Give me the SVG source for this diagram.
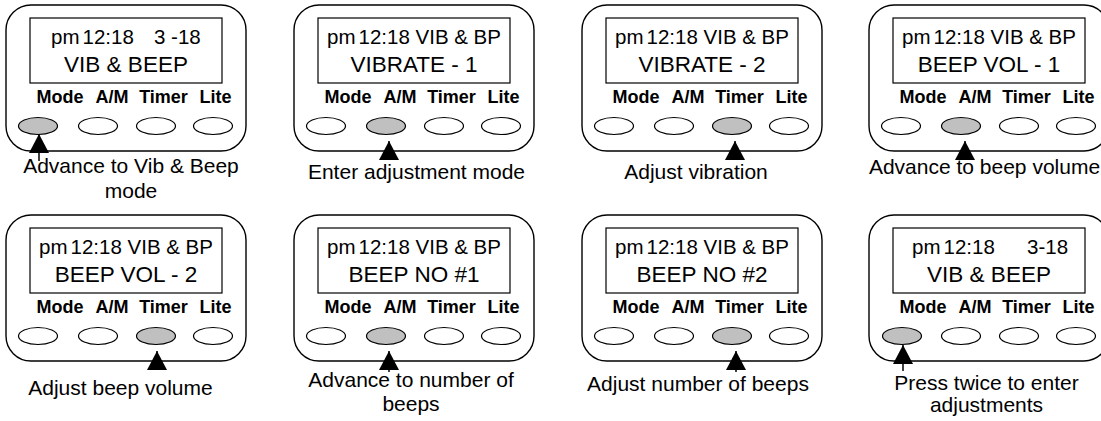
<svg xmlns="http://www.w3.org/2000/svg" width="1101" height="421" viewBox="0 0 1101 421">
<style>
text{font-family:"Liberation Sans",Arial,sans-serif;fill:#000}
.body{fill:#fff;stroke:#000;stroke-width:1.4}
.scr{fill:#fff;stroke:#000;stroke-width:1.2}
.l1{font-size:20.5px}
.l2{font-size:22.5px;text-anchor:middle}
.lbl{font-size:18px;font-weight:bold;text-anchor:middle}
.btn{fill:#fff;stroke:#000;stroke-width:1.2}
.on{fill:#c0c0c0}
.cap{font-size:21px;text-anchor:middle}
.arr{stroke:#000;stroke-width:1.5;fill:none}
</style>
<defs>
<marker id="ah" viewBox="0 0 19 20" refX="19" refY="10" markerWidth="19" markerHeight="20" markerUnits="userSpaceOnUse" orient="auto">
<path d="M0,0 L19,10 L0,20 z" fill="#000"/>
</marker>
<g id="keys">
<text class="lbl" x="54" y="98">Mode</text>
<text class="lbl" x="106" y="98">A/M</text>
<text class="lbl" x="157.5" y="98">Timer</text>
<text class="lbl" x="209.5" y="98">Lite</text>
</g>
</defs>

<g id="panel1" transform="translate(6,5)">
<rect class="body" x="0" y="0" width="240" height="146" rx="25"/>
<rect class="scr" x="24" y="13" width="192" height="65"/>
<text class="l1" x="45" y="39">pm<tspan dx="3">12:18</tspan></text>
<text class="l1" x="148" y="39">3 -18</text>
<text class="l2" x="120" y="67">VIB &amp; BEEP</text>
<use href="#keys"/>
<ellipse class="btn on" cx="32" cy="121" rx="19.5" ry="8.5"/>
<ellipse class="btn" cx="92" cy="121" rx="19.5" ry="8.5"/>
<ellipse class="btn" cx="150" cy="121" rx="19.5" ry="8.5"/>
<ellipse class="btn" cx="207" cy="121" rx="19.5" ry="8.5"/>
<text class="cap" x="125" y="168">Advance to Vib &amp; Beep</text>
<text class="cap" x="125" y="193">mode</text>
</g>

<g id="panel2" transform="translate(294,5)">
<rect class="body" x="0" y="0" width="240" height="146" rx="25"/>
<rect class="scr" x="24" y="13" width="192" height="65"/>
<text class="l1" x="120" y="39" text-anchor="middle">pm<tspan dx="3">12:18 VIB &amp; BP</tspan></text>
<text class="l2" x="120" y="67">VIBRATE - 1</text>
<use href="#keys"/>
<ellipse class="btn" cx="32" cy="121" rx="19.5" ry="8.5"/>
<ellipse class="btn on" cx="92" cy="121" rx="19.5" ry="8.5"/>
<ellipse class="btn" cx="150" cy="121" rx="19.5" ry="8.5"/>
<ellipse class="btn" cx="207" cy="121" rx="19.5" ry="8.5"/>
<text class="cap" x="122.5" y="174">Enter adjustment mode</text>
</g>

<g id="panel3" transform="translate(582,5)">
<rect class="body" x="0" y="0" width="240" height="146" rx="25"/>
<rect class="scr" x="24" y="13" width="192" height="65"/>
<text class="l1" x="120" y="39" text-anchor="middle">pm<tspan dx="3">12:18 VIB &amp; BP</tspan></text>
<text class="l2" x="120" y="67">VIBRATE - 2</text>
<use href="#keys"/>
<ellipse class="btn" cx="32" cy="121" rx="19.5" ry="8.5"/>
<ellipse class="btn" cx="92" cy="121" rx="19.5" ry="8.5"/>
<ellipse class="btn on" cx="150" cy="121" rx="19.5" ry="8.5"/>
<ellipse class="btn" cx="207" cy="121" rx="19.5" ry="8.5"/>
<text class="cap" x="114" y="174">Adjust vibration</text>
</g>

<g id="panel4" transform="translate(869,5)">
<rect class="body" x="0" y="0" width="240" height="146" rx="25"/>
<rect class="scr" x="24" y="13" width="192" height="65"/>
<text class="l1" x="120" y="39" text-anchor="middle">pm<tspan dx="3">12:18 VIB &amp; BP</tspan></text>
<text class="l2" x="120" y="67">BEEP VOL - 1</text>
<use href="#keys"/>
<ellipse class="btn" cx="32" cy="121" rx="19.5" ry="8.5"/>
<ellipse class="btn on" cx="92" cy="121" rx="19.5" ry="8.5"/>
<ellipse class="btn" cx="150" cy="121" rx="19.5" ry="8.5"/>
<ellipse class="btn" cx="207" cy="121" rx="19.5" ry="8.5"/>
<text class="cap" x="115.5" y="169">Advance to beep volume</text>
</g>

<g id="panel5" transform="translate(6,215)">
<rect class="body" x="0" y="0" width="240" height="146" rx="25"/>
<rect class="scr" x="24" y="13" width="192" height="65"/>
<text class="l1" x="120" y="39" text-anchor="middle">pm<tspan dx="3">12:18 VIB &amp; BP</tspan></text>
<text class="l2" x="120" y="67">BEEP VOL - 2</text>
<use href="#keys"/>
<ellipse class="btn" cx="32" cy="121" rx="19.5" ry="8.5"/>
<ellipse class="btn" cx="92" cy="121" rx="19.5" ry="8.5"/>
<ellipse class="btn on" cx="150" cy="121" rx="19.5" ry="8.5"/>
<ellipse class="btn" cx="207" cy="121" rx="19.5" ry="8.5"/>
<text class="cap" x="114.5" y="180">Adjust beep volume</text>
</g>

<g id="panel6" transform="translate(294,215)">
<rect class="body" x="0" y="0" width="240" height="146" rx="25"/>
<rect class="scr" x="24" y="13" width="192" height="65"/>
<text class="l1" x="120" y="39" text-anchor="middle">pm<tspan dx="3">12:18 VIB &amp; BP</tspan></text>
<text class="l2" x="120" y="67">BEEP NO #1</text>
<use href="#keys"/>
<ellipse class="btn" cx="32" cy="121" rx="19.5" ry="8.5"/>
<ellipse class="btn on" cx="92" cy="121" rx="19.5" ry="8.5"/>
<ellipse class="btn" cx="150" cy="121" rx="19.5" ry="8.5"/>
<ellipse class="btn" cx="207" cy="121" rx="19.5" ry="8.5"/>
<text class="cap" x="117" y="172">Advance to number of</text>
<text class="cap" x="117" y="196">beeps</text>
</g>

<g id="panel7" transform="translate(582,215)">
<rect class="body" x="0" y="0" width="240" height="146" rx="25"/>
<rect class="scr" x="24" y="13" width="192" height="65"/>
<text class="l1" x="120" y="39" text-anchor="middle">pm<tspan dx="3">12:18 VIB &amp; BP</tspan></text>
<text class="l2" x="120" y="67">BEEP NO #2</text>
<use href="#keys"/>
<ellipse class="btn" cx="32" cy="121" rx="19.5" ry="8.5"/>
<ellipse class="btn" cx="92" cy="121" rx="19.5" ry="8.5"/>
<ellipse class="btn on" cx="150" cy="121" rx="19.5" ry="8.5"/>
<ellipse class="btn" cx="207" cy="121" rx="19.5" ry="8.5"/>
<text class="cap" x="116" y="176">Adjust number of beeps</text>
</g>

<g id="panel8" transform="translate(869,215)">
<rect class="body" x="0" y="0" width="240" height="146" rx="25"/>
<rect class="scr" x="24" y="13" width="192" height="65"/>
<text class="l1" x="43" y="39">pm<tspan dx="3">12:18</tspan></text>
<text class="l1" x="158" y="39">3-18</text>
<text class="l2" x="120" y="67">VIB &amp; BEEP</text>
<use href="#keys"/>
<ellipse class="btn on" cx="33" cy="121" rx="19.5" ry="8.5"/>
<ellipse class="btn" cx="92" cy="121" rx="19.5" ry="8.5"/>
<ellipse class="btn" cx="150" cy="121" rx="19.5" ry="8.5"/>
<ellipse class="btn" cx="207" cy="121" rx="19.5" ry="8.5"/>
<text class="cap" x="117.5" y="175">Press twice to enter</text>
<text class="cap" x="117.5" y="197">adjustments</text>
</g>

<g id="connectors" class="arr">
<line x1="39" y1="161" x2="39" y2="134" marker-end="url(#ah)"/>
<line x1="389" y1="160" x2="389" y2="141" marker-end="url(#ah)"/>
<line x1="735" y1="160" x2="735" y2="141" marker-end="url(#ah)"/>
<line x1="965" y1="160" x2="965" y2="141" marker-end="url(#ah)"/>
<line x1="157" y1="370" x2="157" y2="351" marker-end="url(#ah)"/>
<line x1="389" y1="372" x2="389" y2="351" marker-end="url(#ah)"/>
<line x1="736" y1="372" x2="736" y2="351" marker-end="url(#ah)"/>
<line x1="903" y1="371" x2="903" y2="345" marker-end="url(#ah)"/>
</g>
</svg>
